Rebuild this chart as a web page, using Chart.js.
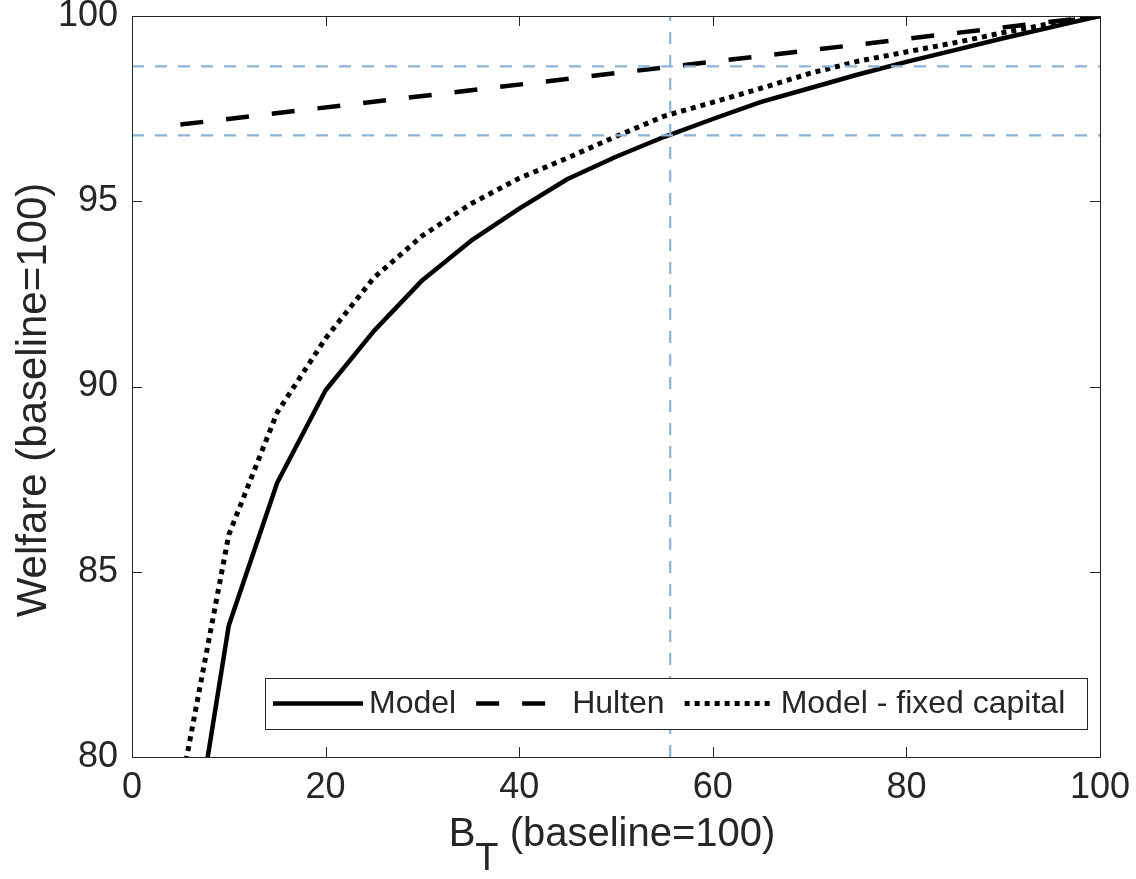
<!DOCTYPE html>
<html>
<head>
<meta charset="utf-8">
<script src="https://cdn.jsdelivr.net/npm/chart.js@4.4.1/dist/chart.umd.min.js"></script>
<style>
  html, body { margin: 0; padding: 0; background: #fff; }
  #wrap { width: 1136px; height: 879px; }
</style>
</head>
<body>
<div id="wrap"><canvas id="welfareChart" width="1136" height="879"></canvas></div>
<script>
// B_T values (x axis) and the welfare series
const bT = [5, 10, 15, 20, 25, 30, 35, 40, 45, 50, 55, 60, 65, 70, 75, 80, 85, 90, 95, 100];
const welfareModel = [75.4, 83.55, 87.4, 89.9, 91.5, 92.87, 93.93, 94.8, 95.6, 96.2, 96.74, 97.22, 97.68, 98.05, 98.42, 98.76, 99.08, 99.4, 99.7, 100];
const welfareFixedCapital = [79.1, 86.0, 89.3, 91.3, 92.94, 94.07, 94.93, 95.62, 96.17, 96.75, 97.3, 97.67, 98.05, 98.45, 98.78, 99.03, 99.28, 99.55, 99.8, 100];
const hultenB = [5, 100];
const hultenWelfare = [97.07, 100];

// reference lines (light blue, dashed)
const refB = 55.6;
const refWelfare = [98.64, 96.78];

const xTicks = [0, 20, 40, 60, 80, 100];
const yTicks = [80, 85, 90, 95, 100];
const seriesLabels = ['Model', 'Hulten', 'Model - fixed capital'];

const FONT = '"Liberation Sans", Arial, Helvetica, sans-serif';
const INK = '#262626';
const REF_BLUE = 'rgb(140,180,215)';

function pairs(xs, ys) {
    return xs.map((x, i) => ({ x: x, y: ys[i] }));
}

const datasets = [
    {
        label: seriesLabels[0],
        data: pairs(bT, welfareModel),
        borderColor: '#000', borderWidth: 4.5, borderDash: [],
        order: 2
    },
    {
        label: seriesLabels[1],
        data: pairs(hultenB, hultenWelfare),
        borderColor: '#000', borderWidth: 4.5, borderDash: [23, 23],
        order: 2
    },
    {
        label: seriesLabels[2],
        data: pairs(bT, welfareFixedCapital),
        borderColor: '#000', borderWidth: 5, borderDash: [5, 5],
        order: 2
    },
    // reference lines
    {
        label: 'ref-v',
        data: [{ x: refB, y: 80 }, { x: refB, y: 100 }],
        borderColor: REF_BLUE, borderWidth: 2.2, borderDash: [12, 11],
        order: 1
    },
    ...refWelfare.map(v => ({
        label: 'ref-h',
        data: [{ x: 0, y: v }, { x: 100, y: v }],
        borderColor: REF_BLUE, borderWidth: 2.2, borderDash: [12, 11],
        order: 1
    }))
];
datasets.forEach(ds => {
    ds.pointRadius = 0;
    ds.tension = 0;
    ds.fill = false;
    ds.borderCapStyle = 'butt';
    ds.borderJoinStyle = 'round';
    ds.clip = 0;
});

// axes box, inward ticks, axis titles and legend
const framePlugin = {
    id: 'frame',
    afterDraw(chart) {
        const ctx = chart.ctx;
        const a = chart.chartArea;
        const xs = chart.scales.x, ys = chart.scales.y;
        ctx.save();
        ctx.setLineDash([]);
        ctx.strokeStyle = INK;
        ctx.lineWidth = 1;
        ctx.strokeRect(Math.round(a.left) + 0.5, Math.round(a.top) + 0.5,
            Math.round(a.right - a.left), Math.round(a.bottom - a.top));

        const tl = 10;
        ctx.beginPath();
        xTicks.forEach(v => {
            const px = Math.round(xs.getPixelForValue(v)) + 0.5;
            ctx.moveTo(px, a.bottom); ctx.lineTo(px, a.bottom - tl);
            ctx.moveTo(px, a.top); ctx.lineTo(px, a.top + tl);
        });
        yTicks.forEach(v => {
            const py = Math.round(ys.getPixelForValue(v)) + 0.5;
            ctx.moveTo(a.left, py); ctx.lineTo(a.left + tl, py);
            ctx.moveTo(a.right, py); ctx.lineTo(a.right - tl, py);
        });
        ctx.stroke();

        // y title
        ctx.fillStyle = INK;
        ctx.font = '42px ' + FONT;
        ctx.save();
        ctx.translate(46, 400);
        ctx.rotate(-Math.PI / 2);
        ctx.textAlign = 'center';
        ctx.textBaseline = 'alphabetic';
        ctx.fillText('Welfare (baseline=100)', 0, 0);
        ctx.restore();

        // x title with subscript T
        const mainFont = '40px ' + FONT, subFont = '38px ' + FONT;
        ctx.font = mainFont;
        const wB = ctx.measureText('B').width;
        const wRest = ctx.measureText(' (baseline=100)').width;
        ctx.font = subFont;
        const wT = ctx.measureText('T').width;
        let tx = (a.left + a.right) / 2 - 4 - (wB + wT + wRest) / 2;
        const baseY = 846;
        ctx.textAlign = 'left';
        ctx.textBaseline = 'alphabetic';
        ctx.font = mainFont;
        ctx.fillText('B', tx, baseY);
        ctx.font = subFont;
        ctx.fillText('T', tx + wB, baseY + 24);
        ctx.font = mainFont;
        ctx.fillText(' (baseline=100)', tx + wB + wT, baseY);

        // legend
        const box = { x: 265, y: 678, w: 822, h: 51 };
        ctx.fillStyle = '#fff';
        ctx.fillRect(box.x, box.y, box.w, box.h);
        ctx.strokeStyle = INK;
        ctx.lineWidth = 1;
        ctx.strokeRect(box.x + 0.5, box.y + 0.5, box.w, box.h);
        ctx.font = '32px ' + FONT;
        ctx.textBaseline = 'middle';
        const cy = box.y + box.h / 2;
        let lx = box.x + 8;
        seriesLabels.forEach((label, i) => {
            const ds = chart.data.datasets[i];
            ctx.beginPath();
            ctx.setLineDash(ds.borderDash);
            ctx.lineWidth = ds.borderWidth;
            ctx.strokeStyle = ds.borderColor;
            ctx.moveTo(lx, cy);
            ctx.lineTo(lx + 90, cy);
            ctx.stroke();
            ctx.setLineDash([]);
            ctx.fillStyle = INK;
            ctx.fillText(label, lx + 96, cy + 1);
            lx += 96 + ctx.measureText(label).width + 20;
        });
        ctx.restore();
    }
};

const chart = new Chart(document.getElementById('welfareChart').getContext('2d'), {
    type: 'line',
    data: { datasets: datasets },
    options: {
        responsive: false,
        animation: false,
        devicePixelRatio: 1,
        layout: { padding: { left: 0, top: 16, right: 36, bottom: 0 } },
        plugins: { legend: { display: false }, tooltip: { enabled: false } },
        scales: {
            x: {
                type: 'linear', min: 0, max: 100,
                afterBuildTicks: s => { s.ticks = xTicks.map(v => ({ value: v })); },
                afterFit: s => { s.height = 122; s.paddingLeft = 0; s.paddingRight = 0; },
                grid: { display: false, drawTicks: false },
                border: { display: false },
                ticks: { color: INK, font: { family: FONT, size: 36 }, padding: 9, maxRotation: 0 }
            },
            y: {
                type: 'linear', min: 80, max: 100,
                afterBuildTicks: s => { s.ticks = yTicks.map(v => ({ value: v })); },
                afterFit: s => { s.width = 132; s.paddingTop = 0; s.paddingBottom = 0; },
                grid: { display: false, drawTicks: false },
                border: { display: false },
                ticks: { color: INK, font: { family: FONT, size: 36 }, padding: 14 }
            }
        }
    },
    plugins: [framePlugin]
});
</script>
</body>
</html>
